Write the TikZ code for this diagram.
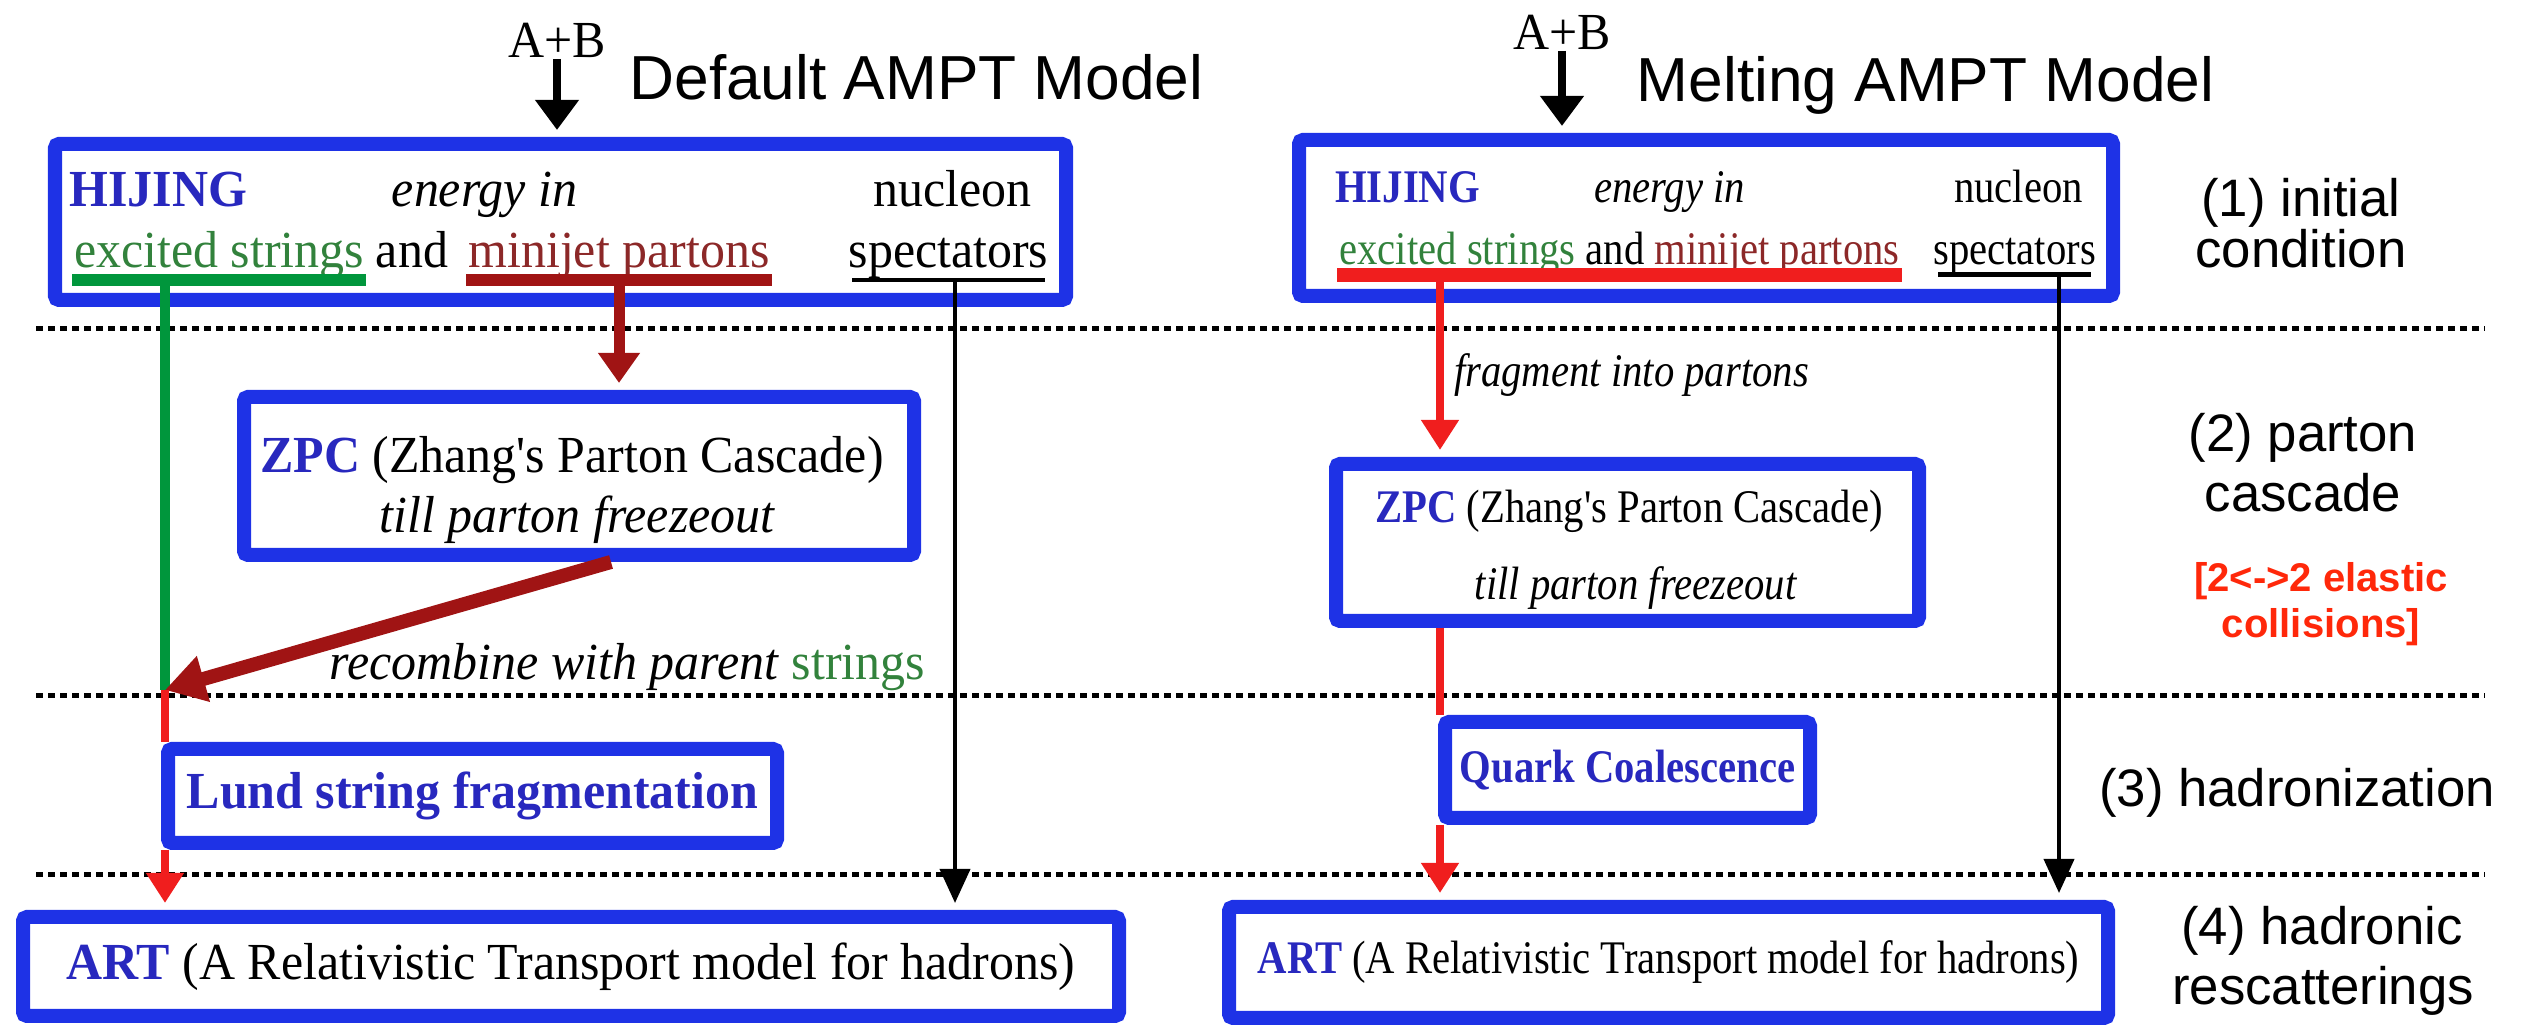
\documentclass[tikz,border=0pt]{standalone}
\usepackage{fontspec}
\setmainfont{Liberation Serif}
\setsansfont{Liberation Sans}
\newfontfamily\leftfont[FakeStretch=0.96]{Liberation Serif}
\newfontfamily\rightfont[FakeStretch=0.87]{Liberation Serif}
\usetikzlibrary{arrows.meta}

\definecolor{boxblue}{RGB}{30,50,230}
\definecolor{txtblue}{RGB}{40,40,190}
\definecolor{bargreen}{RGB}{0,150,60}
\definecolor{txtgreen}{RGB}{50,130,60}
\definecolor{darkred}{RGB}{160,20,20}
\definecolor{txtred}{RGB}{140,40,40}
\definecolor{brightred}{RGB}{240,30,30}
\definecolor{notered}{RGB}{255,40,10}

\newcommand{\leftsize}{\leftfont\fontsize{14.8}{17}\selectfont}
\newcommand{\rightsize}{\rightfont\fontsize{13.3}{16}\selectfont}
\newcommand{\titlesize}{\fontsize{17.7}{21}\selectfont}
\newcommand{\stagesize}{\fontsize{15}{18}\selectfont}
\newcommand{\notesize}{\fontsize{11.4}{14}\selectfont}

\tikzset{
  stage/.style={draw=boxblue, line width=0.14cm, rounded corners=0.04cm, inner sep=0pt},
  lbl/.style={inner sep=0pt, anchor=base},
  dotline/.style={line width=0.05cm, dash pattern=on 0.07cm off 0.05cm},
  blkarrow/.style={line width=0.08cm, shorten >=0.07cm, -{Triangle[length=0.3cm,width=0.42cm]}},
  thinarrow/.style={line width=0.04cm, shorten >=0.07cm, -{Triangle[length=0.34cm,width=0.3cm]}},
  redarrow/.style={brightred, line width=0.08cm, shorten >=0.07cm, -{Triangle[length=0.3cm,width=0.36cm]}},
}

\begin{document}
\begin{tikzpicture}
  \useasboundingbox (0,0) rectangle (25.26,10.29);

  % stage separators
  \draw[dotline] (0.36,7.00) -- (24.85,7.00);
  \draw[dotline] (0.36,3.33) -- (24.85,3.33);
  \draw[dotline] (0.36,1.54) -- (24.85,1.54);

  % default model
  \node[stage, minimum width=10.11cm, minimum height=1.56cm] (hijL) at (5.605,8.07) {};
  \node[stage, minimum width=6.70cm, minimum height=1.58cm] (zpcL) at (5.79,5.53) {};
  \node[stage, minimum width=6.09cm, minimum height=0.94cm, text=txtblue, font=\leftsize\bfseries] (lund) at (4.725,2.33) {Lund string fragmentation};
  \node[stage, minimum width=10.96cm, minimum height=0.99cm, font=\leftsize] (artL) at (5.71,0.625) {\textcolor{txtblue}{\textbf{ART}} (A Relativistic Transport model for hadrons)};

  \node[lbl, font=\leftsize] (abL) at (5.57,9.71) {A+B};
  \node[lbl, font=\sffamily\titlesize] (titleL) at (9.165,9.29) {Default AMPT Model};

  \node[lbl, font=\leftsize\bfseries, text=txtblue] (hijtxtL) at (1.585,8.22) {HIJING};
  \node[lbl, font=\leftsize\itshape] (enL) at (4.845,8.22) {energy in};
  \node[lbl, font=\leftsize] (nucL) at (9.525,8.22) {nucleon};
  \node[lbl, font=\leftsize, text=txtgreen] (strL) at (2.19,7.61) {excited strings};
  \node[lbl, font=\leftsize] (andL) at (4.12,7.61) {and};
  \node[lbl, font=\leftsize, text=txtred] (mjL) at (6.19,7.61) {minijet partons};
  \node[lbl, font=\leftsize] (specL) at (9.485,7.61) {spectators};

  \draw[bargreen, line width=0.12cm] (0.72,7.49) -- (3.66,7.49);
  \draw[darkred, line width=0.12cm] (4.66,7.49) -- (7.72,7.49);
  \draw[line width=0.04cm] (8.52,7.49) -- (10.45,7.49);

  \node[lbl, font=\leftsize] (zpcaL) at (5.72,5.56) {\textcolor{txtblue}{\textbf{ZPC}} (Zhang's Parton Cascade)};
  \node[lbl, font=\leftsize\itshape] (zpcbL) at (5.77,4.96) {till parton freezeout};
  \node[lbl, font=\leftsize] (recL) at (6.275,3.49) {\textit{recombine with parent} \textcolor{txtgreen}{strings}};

  \coordinate (gL) at (1.65,7.49);
  \coordinate (rL) at (6.19,7.49);
  \coordinate (sL) at (9.55,7.49);
  \coordinate (junc) at (1.65,3.39);

  \draw[blkarrow] (abL.south) -- (abL.south |- hijL.north);
  \draw[bargreen, line width=0.10cm] (gL) -- (junc);
  \draw[darkred, line width=0.11cm, shorten >=0.07cm, -{Triangle[length=0.3cm,width=0.4cm]}] (rL) -- (rL |- zpcL.north);
  \draw[darkred, line width=0.14cm, -{Triangle[length=0.4cm,width=0.45cm]}] ([xshift=0.32cm]zpcL.south) -- (junc);
  \draw[brightred, line width=0.08cm] (junc) -- (junc |- lund.north);
  \draw[redarrow] (junc |- lund.south) -- (junc |- artL.north);
  \draw[thinarrow] (sL) -- (sL |- artL.north);

  % melting model
  \node[stage, minimum width=8.14cm, minimum height=1.56cm] (hijR) at (17.06,8.11) {};
  \node[stage, minimum width=5.83cm, minimum height=1.57cm] (zpcR) at (16.275,4.865) {};
  \node[stage, minimum width=3.65cm, minimum height=0.96cm, text=txtblue, font=\rightsize\bfseries] (quark) at (16.275,2.59) {Quark Coalescence};
  \node[stage, minimum width=8.79cm, minimum height=1.11cm, font=\rightsize] (artR) at (16.685,0.665) {\textcolor{txtblue}{\textbf{ART}} (A Relativistic Transport model for hadrons)};

  \node[lbl, font=\leftsize] (abR) at (15.62,9.79) {A+B};
  \node[lbl, font=\sffamily\titlesize] (titleR) at (19.255,9.27) {Melting AMPT Model};

  \node[lbl, font=\rightsize\bfseries, text=txtblue] (hijtxtR) at (14.075,8.26) {HIJING};
  \node[lbl, font=\rightsize\itshape] (enR) at (16.695,8.26) {energy in};
  \node[lbl, font=\rightsize] (nucR) at (20.185,8.26) {nucleon};
  \node[lbl, font=\rightsize] (strR) at (16.195,7.64) {\textcolor{txtgreen}{excited strings} and \textcolor{txtred}{minijet partons}};
  \node[lbl, font=\rightsize] (specR) at (20.145,7.64) {spectators};

  \draw[brightred, line width=0.14cm] (13.37,7.54) -- (19.02,7.54);
  \draw[line width=0.05cm] (19.38,7.54) -- (20.91,7.54);

  \node[lbl, font=\rightsize\itshape] (fragR) at (16.315,6.42) {fragment into partons};
  \node[lbl, font=\rightsize] (zpcaR) at (16.29,5.06) {\textcolor{txtblue}{\textbf{ZPC}} (Zhang's Parton Cascade)};
  \node[lbl, font=\rightsize\itshape] (zpcbR) at (16.355,4.29) {till parton freezeout};

  \coordinate (rR) at (14.40,7.54);
  \coordinate (sR) at (20.59,7.54);

  \draw[blkarrow] (abR.south) -- (abR.south |- hijR.north);
  \draw[redarrow] (rR) -- (rR |- zpcR.north);
  \draw[brightred, line width=0.08cm] (rR |- zpcR.south) -- (rR |- quark.north);
  \draw[redarrow] (rR |- quark.south) -- (rR |- artR.north);
  \draw[thinarrow] (sR) -- (sR |- artR.north);

  % stages
  \node[lbl, font=\sffamily\stagesize] (st1a) at (23.01,8.12) {(1) initial};
  \node[lbl, font=\sffamily\stagesize] (st1b) at (23.01,7.61) {condition};
  \node[lbl, font=\sffamily\stagesize] (st2a) at (23.03,5.77) {(2) parton};
  \node[lbl, font=\sffamily\stagesize] (st2b) at (23.03,5.17) {cascade};
  \node[lbl, font=\sffamily\notesize\bfseries, text=notered] (elA) at (23.21,4.37) {[2<->2 elastic};
  \node[lbl, font=\sffamily\notesize\bfseries, text=notered] (elB) at (23.21,3.91) {collisions]};
  \node[lbl, font=\sffamily\stagesize] (st3) at (22.97,2.22) {(3) hadronization};
  \node[lbl, font=\sffamily\stagesize] (st4a) at (23.22,0.84) {(4) hadronic};
  \node[lbl, font=\sffamily\stagesize] (st4b) at (23.23,0.24) {rescatterings};
\end{tikzpicture}
\end{document}
